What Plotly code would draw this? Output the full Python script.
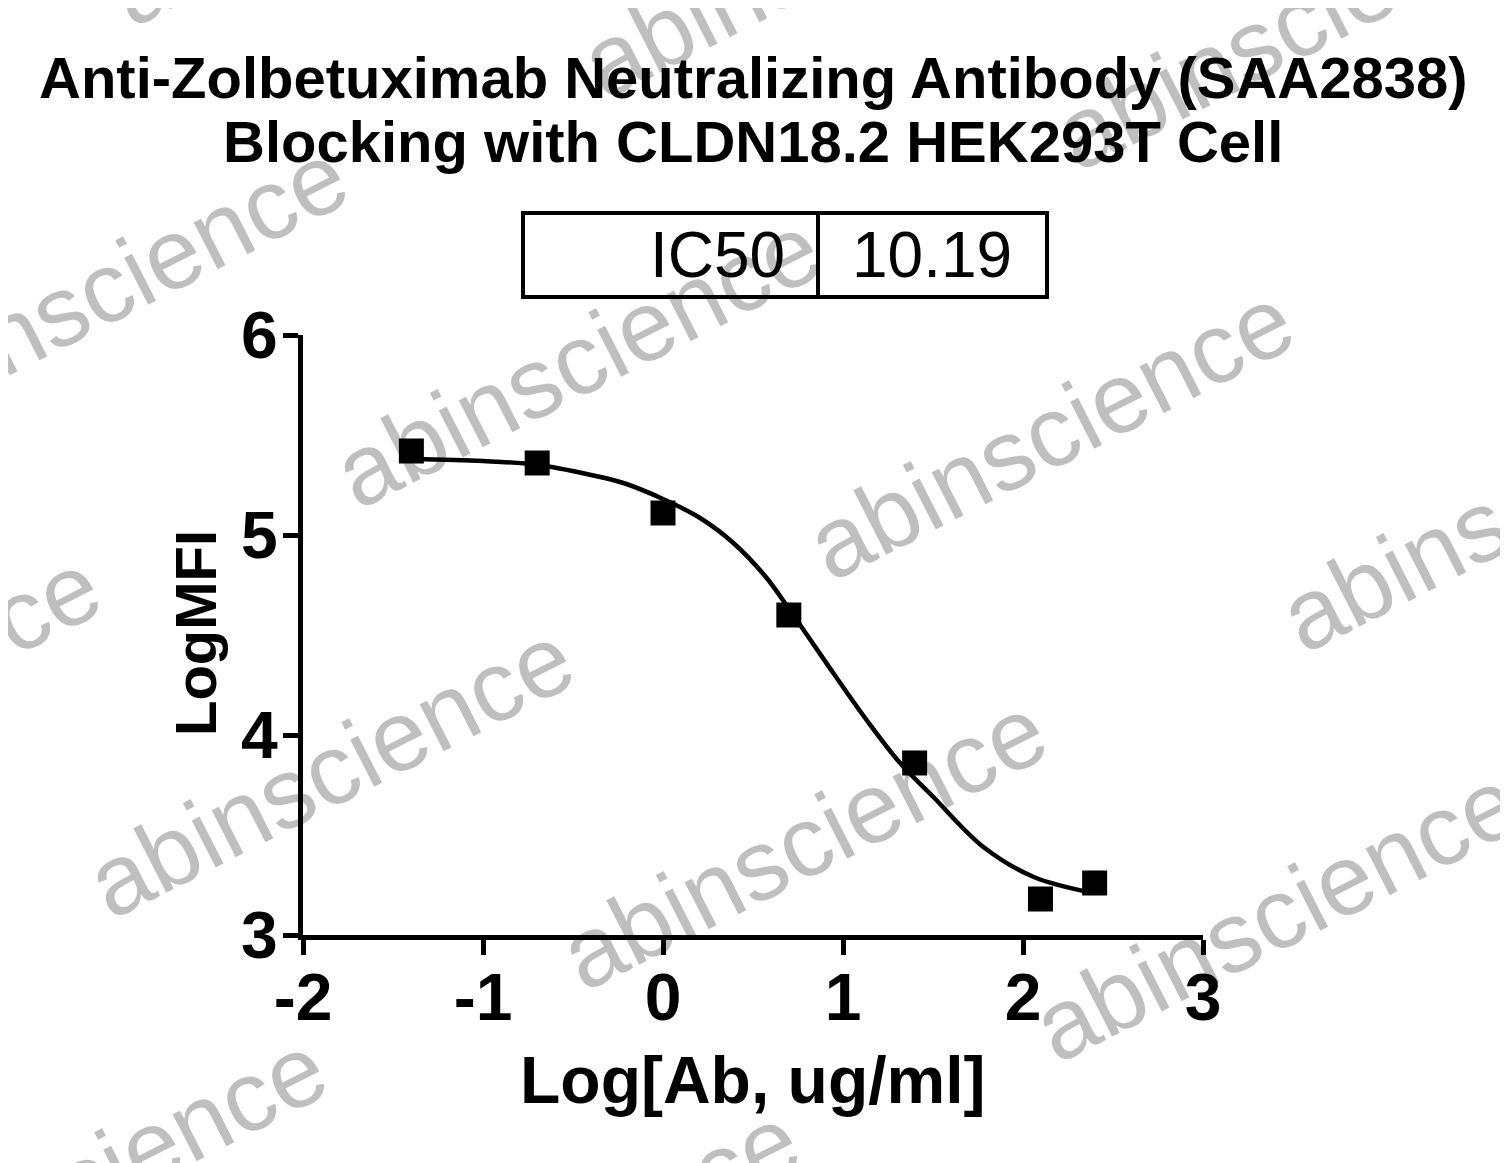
import plotly.graph_objects as go

# measured points: log concentration vs log MFI
log_conc = [-1.398, -0.699, 0.0, 0.699, 1.398, 2.097, 2.398]
log_mfi = [5.42, 5.36, 5.11, 4.60, 3.86, 3.18, 3.26]

# fitted curve
fit_x = [-1.39, -1.0, -0.69, -0.4, -0.22, 0.0, 0.206, 0.391, 0.576, 0.70,
         0.946, 1.131, 1.317, 1.502, 1.78, 2.06, 2.39]
fit_y = [5.38, 5.37, 5.35, 5.30, 5.26, 5.18, 5.085, 4.96, 4.785, 4.63,
         4.31, 4.075, 3.86, 3.69, 3.44, 3.29, 3.21]

x_ticks = [-2, -1, 0, 1, 2, 3]
x_tick_text = ["-2", "-1", "0", "1", "2", "3"]
y_ticks = [3, 4, 5, 6]

title_lines = ["Anti-Zolbetuximab Neutralizing Antibody (SAA2838)",
               "Blocking with CLDN18.2 HEK293T Cell"]
ic50_label = "IC50"
ic50_value = "10.19"

# watermark centres in page pixels
wm_px = [(104, 288), (577, 360), (1050, 432), (1523, 504),
         (351, -122), (824, -50), (1297, 22),
         (-143, 698), (330, 770), (803, 842), (1276, 914),
         (83, 1180), (556, 1252)]

# page offset of the figure inside the browser (body margin)
OFF = 8
W, H = 1508 - OFF, 1163 - OFF
PL, PT, PW, PH = 303, 335, 900, 600   # plot area in page pixels
L, T = PL - OFF, PT - OFF
R, B = W - L - PW, H - T - PH


def px(x):
    return (x - PL) / PW


def py(y):
    return (PT + PH - y) / PH


ARIAL = "Liberation Sans, Arial, sans-serif"

fig = go.Figure()

fig.add_trace(go.Scatter(x=fit_x, y=fit_y, mode="lines", line_shape="spline",
                         line=dict(color="black", width=4.5), hoverinfo="skip"))
fig.add_trace(go.Scatter(x=log_conc, y=log_mfi, mode="markers",
                         marker=dict(symbol="square", size=25, color="black"),
                         cliponaxis=False))

axis_common = dict(showline=True, linecolor="black", linewidth=5,
                   ticks="outside", ticklen=15, tickwidth=5, tickcolor="black",
                   showgrid=False, zeroline=False,
                   tickfont=dict(family=ARIAL, size=66, color="black", weight="bold"))

fig.update_xaxes(range=[-2, 3], tickvals=x_ticks, ticktext=x_tick_text,
                 ticklabelstandoff=-14, **axis_common)
fig.update_yaxes(range=[3, 6], tickvals=y_ticks, ticklabelstandoff=-8, **axis_common)

annotations = []
for i, line in enumerate(title_lines):
    annotations.append(dict(text=line, x=px(753), y=py(77 + 65 * i),
                            xref="paper", yref="paper", showarrow=False,
                            xanchor="center", yanchor="middle",
                            font=dict(family=ARIAL, size=58, color="black", weight="bold")))

annotations.append(dict(text="Log[Ab, ug/ml]", x=px(753), y=py(1080),
                        xref="paper", yref="paper", showarrow=False,
                        xanchor="center", yanchor="middle",
                        font=dict(family=ARIAL, size=66, color="black", weight="bold")))
annotations.append(dict(text="LogMFI", x=px(195), y=py(633), textangle=-90,
                        xref="paper", yref="paper", showarrow=False,
                        xanchor="center", yanchor="middle",
                        font=dict(family=ARIAL, size=58, color="black", weight="bold")))

annotations.append(dict(text=ic50_label, x=px(787), y=py(255),
                        xref="paper", yref="paper", showarrow=False,
                        xanchor="right", yanchor="middle",
                        font=dict(family=ARIAL, size=64, color="black")))
annotations.append(dict(text=ic50_value, x=px(932), y=py(255),
                        xref="paper", yref="paper", showarrow=False,
                        xanchor="center", yanchor="middle",
                        font=dict(family=ARIAL, size=64, color="black")))

for cx, cy in wm_px:
    annotations.append(dict(text="abinscience", x=px(cx), y=py(cy), textangle=-27,
                            xref="paper", yref="paper", showarrow=False,
                            xanchor="center", yanchor="middle",
                            font=dict(family=ARIAL, size=100, color="rgba(0,0,0,0.25)")))

shapes = [
    dict(type="rect", xref="paper", yref="paper",
         x0=px(523), x1=px(1047), y0=py(297), y1=py(213),
         line=dict(color="black", width=4)),
    dict(type="line", xref="paper", yref="paper",
         x0=px(818), x1=px(818), y0=py(297), y1=py(213),
         line=dict(color="black", width=4)),
]

fig.update_layout(width=W, height=H, margin=dict(l=L, r=R, t=T, b=B),
                  plot_bgcolor="white", paper_bgcolor="white",
                  showlegend=False, annotations=annotations, shapes=shapes)

fig.write_html("out.html")
